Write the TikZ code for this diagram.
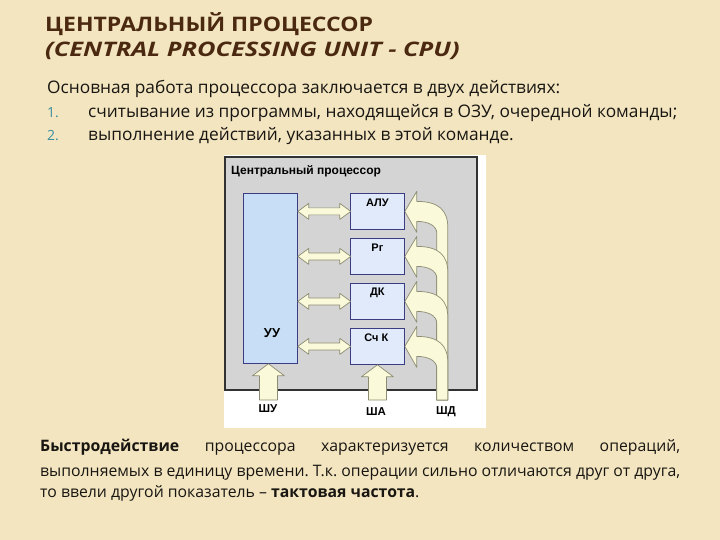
\documentclass[tikz,border=0pt]{standalone}
\usepackage{fontspec}
\setmainfont{Open Sans}
\newfontfamily\arialf{Liberation Sans}
\usetikzlibrary{calc}
\frenchspacing
\definecolor{bg}{RGB}{242,229,192}
\definecolor{titlec}{RGB}{75,40,16}
\definecolor{numc}{RGB}{58,143,160}
\definecolor{txt}{RGB}{25,22,18}
\definecolor{panel}{RGB}{212,212,212}
\definecolor{panelline}{RGB}{50,50,50}
\definecolor{boxline}{RGB}{60,60,130}
\definecolor{uufill}{RGB}{200,222,246}
\definecolor{boxfill}{RGB}{224,234,250}
\definecolor{arrfill}{RGB}{250,249,218}
\definecolor{arrline}{RGB}{140,140,115}
\tikzset{
  txtnode/.style={anchor=base west, inner sep=0pt, text=txt},
  cpubox/.style={draw=boxline, fill=boxfill, line width=0.8pt, minimum width=54pt, minimum height=36pt, inner sep=0pt, anchor=north west},
  boxlbl/.style={inner sep=0pt, font=\arialf\bfseries\fontsize{11}{12}\selectfont, text=black},
  buslbl/.style={inner sep=0pt, font=\arialf\bfseries\fontsize{11.5}{12}\selectfont, text=black},
  fatarrow/.style={fill=arrfill, draw=arrline, line width=0.7pt, line join=round},
}
\newcommand\dblarrow[2]{%
  \draw[fatarrow] (#1 |- #2) -- ++(11,-8) -- ++(0,4.5) -- ++(31,0) -- ++(0,-4.5) -- ++(11,8)
    -- ++(-11,8) -- ++(0,-4.5) -- ++(-31,0) -- ++(0,4.5) -- cycle;}
\newcommand\uparrowat[1]{%
  \coordinate (ur) at ($#1+(9,0)$);
  \coordinate (ul) at ($#1+(-9,0)$);
  \begin{scope}[shift={#1}]
  \draw[fatarrow] (0,0) -- (16,12) -- (9,12) -- (ur |- busbot) -- (ul |- busbot) -- (-9,12) -- (-16,12) -- cycle;
  \end{scope}}
\newcommand\curvarrow[1]{%
  \coordinate (co) at ($(#1.east)+(43,0)$);
  \coordinate (ci) at ($(#1.east)+(32,0)$);
  \begin{scope}[shift={(#1.east)}]
  \draw[fatarrow] (0,0) -- (12,-20) -- (12,-10) .. controls (34,-10) and (43,-1) .. (43,16)
    -- (co |- busbot) -- (ci |- busbot) -- (32,22) .. controls (32,14) and (23,10) .. (12,10)
    -- (12,21) -- cycle;
  \end{scope}}
\begin{document}
\begin{tikzpicture}[x=1pt,y=-1pt]
\fill[bg] (0,0) rectangle (720,540);
\useasboundingbox (0,0) rectangle (720,540);

% title
\node[txtnode, text=titlec, font=\bfseries\fontsize{20}{24}\selectfont] (t1) at (45,32) {\scalebox{1.15}[1]{ЦЕНТРАЛЬНЫЙ ПРОЦЕССОР}};
\node[txtnode, text=titlec, font=\bfseries\itshape\fontsize{20}{24}\selectfont] (t2) at (45,57) {\scalebox{1.27}[1]{(CENTRAL PROCESSING UNIT - CPU)}};

% intro
\node[txtnode, font=\fontsize{17.3}{20}\selectfont] (b1) at (47,94) {Основная работа процессора заключается в двух действиях:};
\node[txtnode, text=numc, font=\fontsize{14}{20}\selectfont] (n1) at (47,118) {1.};
\node[txtnode, font=\fontsize{17.3}{20}\selectfont] (b2) at (88,118) {считывание из программы, находящейся в ОЗУ, очередной команды;};
\node[txtnode, text=numc, font=\fontsize{14}{20}\selectfont] (n2) at (47,141) {2.};
\node[txtnode, font=\fontsize{17.3}{20}\selectfont] (b3) at (88,141) {выполнение действий, указанных в этой команде.};

% diagram
\fill[white] (224,155) rectangle (486,428);
\draw[fill=panel, draw=panelline, line width=1.2pt] (225,157) rectangle (477,390);
\coordinate (busbot) at (0,400);
\node[anchor=west, inner sep=0pt, font=\arialf\bfseries\fontsize{12}{14}\selectfont] (cpulbl) at (231,171) {Центральный процессор};

\node[cpubox, fill=uufill, minimum height=170pt] (uu) at (243,193) {};
\node[cpubox] (alu) at (350,193) {};
\node[cpubox] (rg) at (350,238) {};
\node[cpubox] (dk) at (350,283) {};
\node[cpubox] (sck) at (350,328) {};

\node[boxlbl, font=\arialf\bfseries\fontsize{13}{14}\selectfont] (uulbl) at (272,333) {УУ};
\node[boxlbl] (alulbl) at ($(alu.north)+(0,10)$) {АЛУ};
\node[boxlbl] (rglbl) at ($(rg.north)+(0,10)$) {Рг};
\node[boxlbl] (dklbl) at ($(dk.north)+(0,10)$) {ДК};
\node[boxlbl] (scklbl) at ($(sck.north)+(-1,10)$) {Сч К};

\dblarrow{uu.east}{alu.west}
\dblarrow{uu.east}{rg.west}
\dblarrow{uu.east}{dk.west}
\dblarrow{uu.east}{sck.west}

\curvarrow{alu}
\curvarrow{rg}
\curvarrow{dk}
\curvarrow{sck}

\uparrowat{($(uu.south)+(-2,0)$)}
\uparrowat{(sck.south)}

\node[buslbl] (shu) at (268,409) {ШУ};
\node[buslbl] (sha) at (376,412) {ША};
\node[buslbl] (shd) at (446,412) {ШД};

% bottom paragraph
\node[txtnode, font=\fontsize{15.8}{20}\selectfont] (p1) at (40,451) {\makebox[640pt][s]{\textbf{Быстродействие} процессора характеризуется количеством операций,}};
\node[txtnode, font=\fontsize{15.8}{20}\selectfont] (p2) at (40,476) {\makebox[640pt][s]{выполняемых в единицу времени. Т.к. операции сильно отличаются друг от друга,}};
\node[txtnode, font=\fontsize{15.8}{20}\selectfont] (p3) at (40,497) {то ввели другой показатель – \textbf{тактовая частота}.};
\end{tikzpicture}
\end{document}
